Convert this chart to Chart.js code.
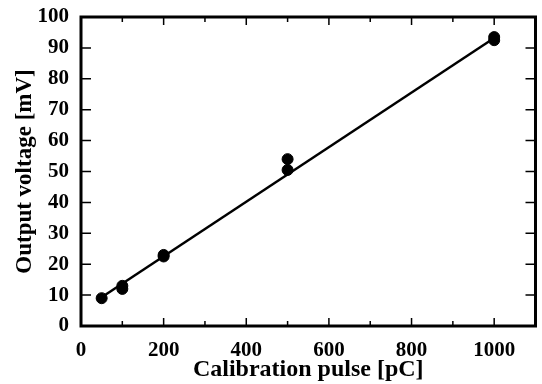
<!DOCTYPE html>
<html>
<head>
    <meta charset="UTF-8">
    <title>Calibration pulse</title>
    <script src="https://cdn.jsdelivr.net/npm/chart.js@4"></script>
    <style>
        html, body { margin: 0; padding: 0; background: #fff; }
        #wrap { width: 542px; height: 384px; position: relative; }
    </style>
</head>
<body>
    <div id="wrap"><canvas id="calChart"></canvas></div>
    <script>
        // measured points
        const pulseX = [50, 100, 100, 200, 200, 500, 500, 1000, 1000];
        const voltageY = [9, 12, 13, 23, 22.5, 54, 50.5, 93.5, 92.5];
        // linear fit
        const fitX = [50, 1000];
        const fitY = [9.3, 93.2];
        const xTicks = [0, 200, 400, 600, 800, 1000];
        const yTicks = [0, 10, 20, 30, 40, 50, 60, 70, 80, 90, 100];

        const serif = '"Liberation Serif", "Times New Roman", serif';

        // frame + inward ticks on all four sides
        const frameTicks = {
            id: 'frameTicks',
            afterDraw(chart) {
                const { ctx, chartArea: a, scales: { x, y } } = chart;
                ctx.save();
                ctx.strokeStyle = '#000';
                ctx.lineWidth = 1.5;
                for (let v = 100; v < 1100; v += 100) {
                    const px = x.getPixelForValue(v);
                    const len = xTicks.includes(v) ? 8 : 5;
                    ctx.beginPath();
                    ctx.moveTo(px, a.bottom); ctx.lineTo(px, a.bottom - len);
                    ctx.moveTo(px, a.top); ctx.lineTo(px, a.top + len);
                    ctx.stroke();
                }
                yTicks.forEach(v => {
                    if (v === 0 || v === 100) return;
                    const py = y.getPixelForValue(v);
                    ctx.beginPath();
                    ctx.moveTo(a.left, py); ctx.lineTo(a.left + 10, py);
                    ctx.moveTo(a.right, py); ctx.lineTo(a.right - 10, py);
                    ctx.stroke();
                });
                ctx.lineWidth = 3;
                ctx.strokeRect(a.left, a.top, a.right - a.left, a.bottom - a.top);
                ctx.restore();
            }
        };

        new Chart(document.getElementById('calChart'), {
            type: 'scatter',
            data: {
                datasets: [
                    {
                        label: 'fit',
                        type: 'line',
                        data: fitX.map((v, i) => ({ x: v, y: fitY[i] })),
                        borderColor: '#000',
                        borderWidth: 2.5,
                        pointRadius: 0,
                        fill: false
                    },
                    {
                        label: 'data',
                        data: pulseX.map((v, i) => ({ x: v, y: voltageY[i] })),
                        backgroundColor: '#000',
                        borderColor: '#000',
                        pointRadius: 5.5
                    }
                ]
            },
            options: {
                responsive: true,
                maintainAspectRatio: false,
                animation: false,
                layout: { padding: { top: 17, right: 4, left: 0, bottom: 0 } },
                plugins: { legend: { display: false }, tooltip: { enabled: false } },
                scales: {
                    x: {
                        type: 'linear',
                        min: 0, max: 1100,
                        afterFit: s => { s.height = 58; s.paddingLeft = 0; s.paddingRight = 0; },
                        afterBuildTicks: s => { s.ticks = xTicks.map(v => ({ value: v })); },
                        grid: { display: false, drawTicks: false },
                        border: { display: false },
                        ticks: {
                            color: '#000',
                            padding: 12,
                            maxRotation: 0,
                            callback: v => String(v),
                            font: { family: serif, size: 21, weight: 'bold' }
                        },
                        title: {
                            display: true,
                            text: 'Calibration pulse [pC]',
                            color: '#000',
                            padding: { top: 0, bottom: 0 },
                            font: { family: serif, size: 24, weight: 'bold' }
                        }
                    },
                    y: {
                        min: 0, max: 100,
                        afterFit: s => { s.width = 81; s.paddingTop = 0; s.paddingBottom = 0; },
                        afterBuildTicks: s => { s.ticks = yTicks.map(v => ({ value: v })); },
                        grid: { display: false, drawTicks: false },
                        border: { display: false },
                        ticks: {
                            color: '#000',
                            padding: 12,
                            callback: v => String(v),
                            font: { family: serif, size: 21, weight: 'bold' }
                        },
                        title: {
                            display: true,
                            text: 'Output voltage [mV]',
                            color: '#000',
                            padding: { top: 11, bottom: 0 },
                            font: { family: serif, size: 23, weight: 'bold' }
                        }
                    }
                }
            },
            plugins: [frameTicks]
        });
    </script>
</body>
</html>
